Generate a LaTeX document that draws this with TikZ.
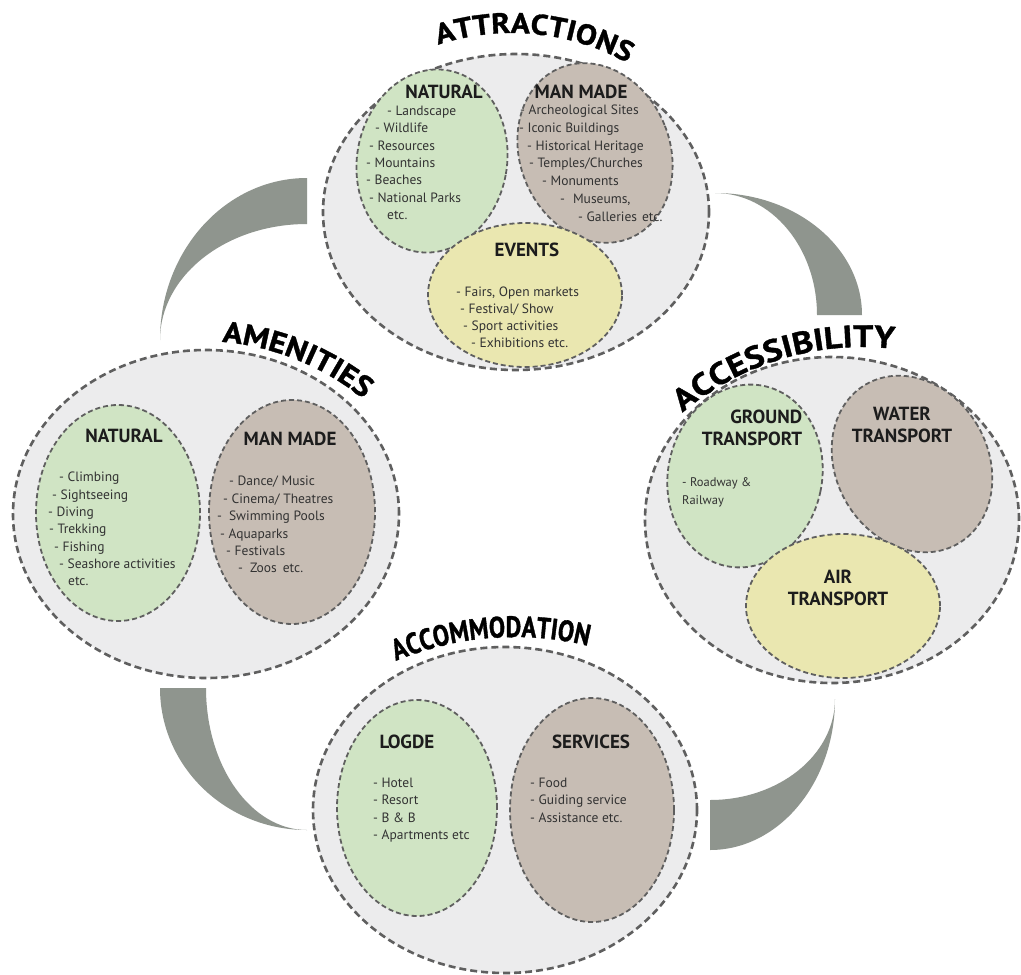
\documentclass[tikz,border=0pt]{standalone}
\usepackage{fontspec}
\setmainfont{PT Sans}
\newfontfamily\ttlfam[FakeStretch=1.1, BoldFeatures={FakeBold=1.2}]{PT Sans}
\newfontfamily\accfam[FakeStretch=1.14, BoldFeatures={FakeBold=1.2}]{PT Sans}
\newfontfamily\narrowfam[FakeStretch=0.82, BoldFeatures={FakeBold=1.2}]{PT Sans}
\usetikzlibrary{shapes.geometric,decorations.text}
\definecolor{arcgray}{RGB}{143,149,142}
\definecolor{outerfill}{RGB}{236,236,237}
\definecolor{dashgray}{RGB}{95,95,95}
\definecolor{natgreen}{RGB}{208,228,196}
\definecolor{manbrown}{RGB}{199,189,180}
\definecolor{evyellow}{RGB}{234,231,176}
\definecolor{headcol}{RGB}{28,28,28}
\definecolor{bodycol}{RGB}{50,50,50}
\newcommand\ttlA{\ttlfam\bfseries\fontsize{28.6}{30}\selectfont}
\newcommand\ttlB{\ttlfam\bfseries\fontsize{29.5}{32}\selectfont}
\newcommand\ttlC{\accfam\bfseries\fontsize{31}{32}\selectfont}
\newcommand\ttlnarrow{\narrowfam\bfseries\fontsize{29.5}{30}\selectfont}
\tikzset{
  outerell/.style={ellipse, draw=dashgray, fill=outerfill, line width=2.6pt, dash pattern=on 7pt off 4pt, inner sep=0pt},
  innerell/.style={ellipse, draw=dashgray, line width=1.8pt, dash pattern=on 5pt off 3pt, inner sep=0pt},
  header/.style={font=\bfseries\fontsize{19}{22}\selectfont, text=headcol, inner sep=0pt},
  body/.style={font=\fontsize{13.5}{17.3}\selectfont, text=bodycol, align=left, anchor=north west, inner sep=0pt},
  crescent/.style={fill=arcgray},
  titlearc/.style={decorate, decoration={text along path, text align=center, text={#1}}}
}
\begin{document}
\begin{tikzpicture}[x=1pt,y=1pt]
\fill[white] (0,0) rectangle (1021,-975);
\useasboundingbox (0,0) rectangle (1021,-975);

% connecting crescents
\fill[crescent] (307,-178) arc[start angle=90, end angle=180, x radius=147, y radius=162]
  arc[start angle=180, end angle=90, x radius=147, y radius=116] -- cycle;
\fill[crescent] (715,-193) arc[start angle=90, end angle=0, x radius=147, y radius=122]
  -- (817,-315) arc[start angle=0, end angle=90, x radius=102, y radius=122] -- cycle;
\fill[crescent] (160,-688) arc[start angle=180, end angle=270, x radius=147, y radius=142]
  arc[start angle=270, end angle=180, x radius=101, y radius=142] -- cycle;
\fill[crescent] (835,-699) arc[start angle=0, end angle=-90, x radius=125, y radius=151]
  -- (710,-800) arc[start angle=-90, end angle=0, x radius=125, y radius=101] -- cycle;

% outer ellipses
\node[outerell, minimum width=386pt, minimum height=316pt] (attr) at (516,-212) {};
\node[outerell, minimum width=386pt, minimum height=328pt] (amen) at (206,-514) {};
\node[outerell, minimum width=374pt, minimum height=326pt] (access) at (832,-520) {};
\node[outerell, minimum width=384pt, minimum height=326pt] (accom) at (505,-810) {};

% inner ellipses
\node[innerell, fill=natgreen, minimum width=150pt, minimum height=184pt, rotate=-10] (attnat) at (432,-161) {};
\node[innerell, fill=manbrown, minimum width=150pt, minimum height=184pt, rotate=22] (attman) at (595,-153) {};
\node[innerell, fill=evyellow, minimum width=194pt, minimum height=144pt] (attev) at (525,-295) {};
\node[innerell, fill=natgreen, minimum width=164pt, minimum height=216pt] (amnat) at (118,-513) {};
\node[innerell, fill=manbrown, minimum width=166pt, minimum height=224pt] (amman) at (292,-512) {};
\node[innerell, fill=natgreen, minimum width=154pt, minimum height=184pt, rotate=-12] (acground) at (745,-476) {};
\node[innerell, fill=manbrown, minimum width=152pt, minimum height=184pt, rotate=30] (acwater) at (912,-464) {};
\node[innerell, fill=evyellow, minimum width=194pt, minimum height=144pt] (acair) at (843,-606) {};
\node[innerell, fill=natgreen, minimum width=160pt, minimum height=216pt] (aclodge) at (417,-808) {};
\node[innerell, fill=manbrown, minimum width=164pt, minimum height=224pt] (acserv) at (592,-810) {};

% titles along arcs
\path[titlearc={|\ttlA|ATTRACTIONS}] (512,-270) ++(125:237) arc[start angle=125, end angle=44, radius=237];
\path[titlearc={|\ttlB|AMENITIES}] (200,-600) ++(106:259) arc[start angle=106, end angle=30, radius=259];
\path[titlearc={|\ttlC|ACCESSIBILITY}] (862,-625) ++(145:278) arc[start angle=145, end angle=68.6, radius=278];
\path[titlearc={|\ttlnarrow|ACCOMMODATION}] (515,-946) ++(130:309) arc[start angle=130, end angle=59, radius=309];

% headers
\node[header] (hattnat) at (444,-92) {NATURAL};
\node[header] (hattman) at (581,-92) {MAN MADE};
\node[header] (hattev) at (527,-250) {EVENTS};
\node[header] (hamnat) at (124,-436) {NATURAL};
\node[header] (hamman) at (290,-439) {MAN MADE};
\node[header, align=right] (hground) at (752,-428) {GROUND\\TRANSPORT};
\node[header, align=center] (hwater) at (902,-425) {WATER\\TRANSPORT};
\node[header, align=center] (hair) at (838,-588) {AIR\\TRANSPORT};
\node[header] (hlodge) at (407,-742) {LOGDE};
\node[header] (hserv) at (591,-742) {SERVICES};

% bodies
\node[body] (battnat) at (366,-106) {\hspace*{21pt}- Landscape\\\hspace*{9pt}- Wildlife\\\hspace*{3pt}- Resources\\- Mountains\\- Beaches\\\hspace*{3pt}- National Parks\\\hspace*{21pt}etc.};
\node[body, font=\fontsize{13.5}{17.7}\selectfont] (battman) at (519,-105) {\hspace*{1pt}- Archeological Sites\\- Iconic Buildings\\\hspace*{8pt}- Historical Heritage\\\hspace*{10pt}- Temples/Churches\\\hspace*{23pt}- Monuments\\\hspace*{41pt}-\hspace*{8pt}Museums,\\\hspace*{59pt}- Galleries\hspace*{5pt}etc.};
\node[body, font=\fontsize{13.5}{17}\selectfont] (battev) at (456,-287) {- Fairs, Open markets\\\hspace*{4pt}- Festival/ Show\\\hspace*{7pt}- Sport activities\\\hspace*{15pt}- Exhibitions etc.};
\node[body] (bamnat) at (48,-472) {\hspace*{11pt}- Climbing\\\hspace*{4pt}- Sightseeing\\- Diving\\\hspace*{1pt}- Trekking\\\hspace*{6pt}- Fishing\\\hspace*{11pt}- Seashore activities\\\hspace*{20pt}etc.};
\node[body, font=\fontsize{13.5}{17.4}\selectfont] (bamman) at (217,-476) {\hspace*{12pt}- Dance/ Music\\\hspace*{6pt}- Cinema/ Theatres\\-\hspace*{7pt}Swimming Pools\\\hspace*{3pt}- Aquaparks\\\hspace*{9pt}- Festivals\\\hspace*{21pt}-\hspace*{7pt}Zoos\hspace*{6pt}etc.};
\node[body, font=\fontsize{12.5}{18}\selectfont] (bground) at (682,-477) {- Roadway \&\\Railway};
\node[body] (blodge) at (373,-778) {- Hotel\\- Resort\\- B \& B\\- Apartments etc};
\node[body] (bserv) at (530,-778) {- Food\\- Guiding service\\- Assistance etc.};
\end{tikzpicture}
\end{document}
